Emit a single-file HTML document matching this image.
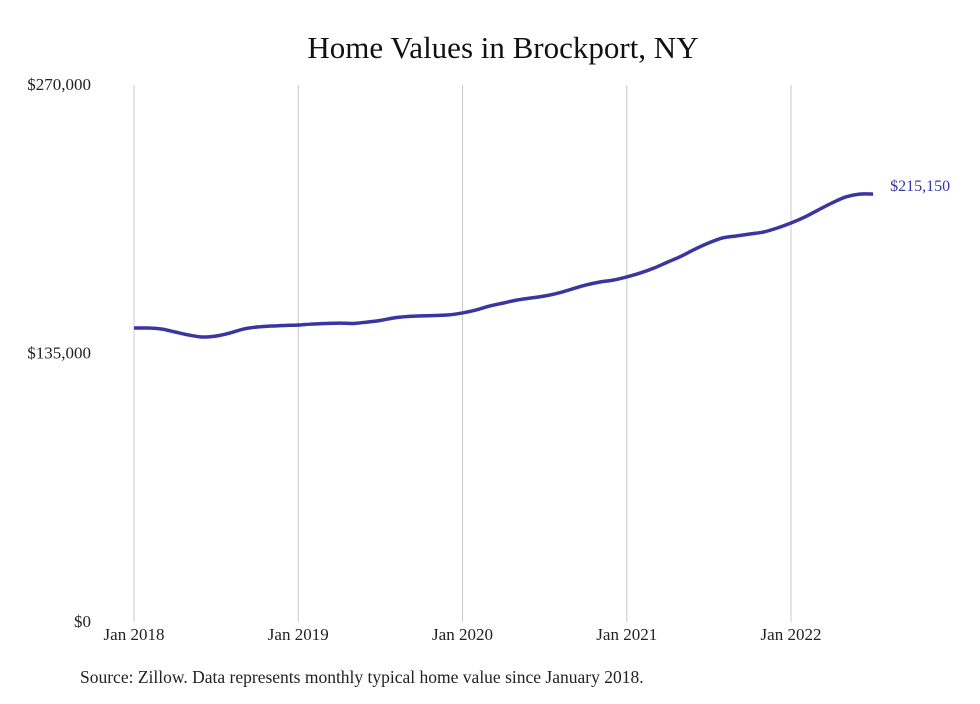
<!DOCTYPE html>
<html><head><meta charset="utf-8"><style>
body{margin:0;background:#fff;width:980px;height:699px;overflow:hidden;}
svg text{font-family:"Liberation Serif",serif;}
</style></head><body>
<svg width="980" height="699">
<text x="503" y="58" text-anchor="middle" font-size="31" fill="#111">Home Values in Brockport, NY</text>
<g id="grid"></g>
<g id="yticks"></g>
<g id="xticks"></g>
<path id="line" fill="none" stroke="#3a35a0" stroke-width="3.5" stroke-linejoin="round"/>
<text id="endlabel" font-size="16" fill="#3a35a0"></text>
<text x="80" y="683" font-size="17.5" fill="#222">Source: Zillow. Data represents monthly typical home value since January 2018.</text>
</svg>
<script>
const values=[147800,147800,147300,145800,144300,143300,143800,145300,147300,148300,148800,149100,
149300,149800,150100,150300,150100,150800,151600,152900,153600,153900,154100,154400,
155400,156900,158900,160400,161900,162900,163900,165400,167400,169400,170900,171900,
173500,175500,178000,181000,184000,187500,190600,193100,194100,195100,196100,198100,
200600,203600,207200,210700,213700,215150,215150];
const yTickValues=[0,135000,270000];
const yTickLabels=["$0","$135,000","$270,000"];
const xTickIndex=[0,12,24,36,48];
const xTickLabels=["Jan 2018","Jan 2019","Jan 2020","Jan 2021","Jan 2022"];
const lastLabel="$215,150";
const NS="http://www.w3.org/2000/svg";
const x0=134,monthW=(791-134)/48,yBase=622,yTop=85,yMax=270000;
const X=i=>x0+i*monthW;
const Y=v=>yBase-(v/yMax)*(yBase-yTop);
const grid=document.getElementById('grid'),xt=document.getElementById('xticks'),yt=document.getElementById('yticks');
xTickIndex.forEach((idx,k)=>{
  const l=document.createElementNS(NS,'line');
  l.setAttribute('x1',X(idx));l.setAttribute('x2',X(idx));l.setAttribute('y1',yTop);l.setAttribute('y2',yBase);
  l.setAttribute('stroke','#c8c8c8');l.setAttribute('stroke-width','1');
  
  
  grid.appendChild(l);
  const t=document.createElementNS(NS,'text');
  t.setAttribute('x',X(idx));t.setAttribute('y',640);t.setAttribute('text-anchor','middle');
  t.setAttribute('font-size','17');t.setAttribute('fill','#222');
  t.textContent=xTickLabels[k];
  
  
  xt.appendChild(t);
});
yTickValues.forEach((v,k)=>{
  const t=document.createElementNS(NS,'text');
  t.setAttribute('x',91);t.setAttribute('y',Y(v)+5);t.setAttribute('text-anchor','end');
  t.setAttribute('font-size','17');t.setAttribute('fill','#222');
  t.textContent=yTickLabels[k];
  
  
  yt.appendChild(t);
});
const pts=values.map((v,i)=>[X(i),Y(v)]);
let d=`M${pts[0][0]},${pts[0][1]}`;
for(let i=0;i<pts.length-1;i++){
  const p0=pts[Math.max(0,i-1)],p1=pts[i],p2=pts[i+1],p3=pts[Math.min(pts.length-1,i+2)];
  const c1=[p1[0]+(p2[0]-p0[0])/6,p1[1]+(p2[1]-p0[1])/6];
  const c2=[p2[0]-(p3[0]-p1[0])/6,p2[1]-(p3[1]-p1[1])/6];
  d+=` C${c1[0]},${c1[1]} ${c2[0]},${c2[1]} ${p2[0]},${p2[1]}`;
}
document.getElementById('line').setAttribute('d',d);
const el=document.getElementById('endlabel');
const last=pts[pts.length-1];
el.setAttribute('x',last[0]+17);el.setAttribute('y',last[1]-3);
el.textContent=lastLabel;
</script>
</body></html>
